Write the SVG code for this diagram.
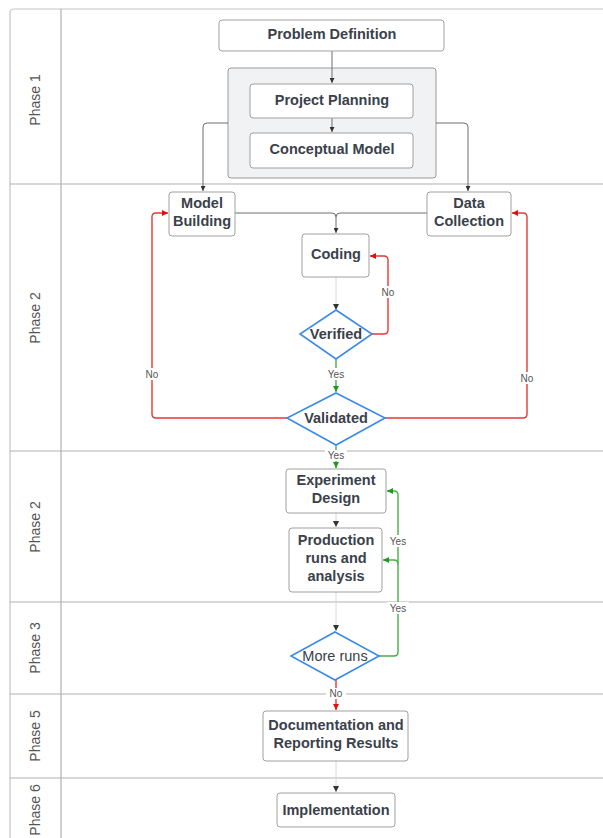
<svg xmlns="http://www.w3.org/2000/svg" width="603" height="838" viewBox="0 0 603 838">
<defs>
<style>
.lane{fill:none;stroke:#c4c4c4;stroke-width:1.2}
.div{stroke:#b0b0b0;stroke-width:1.2}
.lbl{font-family:"Liberation Sans",Arial,sans-serif;font-size:14px;fill:#555;text-anchor:middle}
.box{fill:#fff;stroke:#a0a0a0;stroke-width:1}
.dia{fill:#fff;stroke:#3b8be6;stroke-width:1.6}
.t{font-family:"Liberation Sans",Arial,sans-serif;font-size:14.5px;font-weight:bold;fill:#3a414a;text-anchor:middle}
.tn{font-family:"Liberation Sans",Arial,sans-serif;font-size:14.5px;fill:#3a414a;text-anchor:middle}
.g{fill:none;stroke:#6e6e6e;stroke-width:1}
.gf{fill:none;stroke:#d8d8d8;stroke-width:1}
.r{fill:none;stroke:#e53935;stroke-width:1.4}
.gr{fill:none;stroke:#45b045;stroke-width:1.4}
.sm{font-family:"Liberation Sans",Arial,sans-serif;font-size:10px;fill:#555;text-anchor:middle}
</style>
<marker id="ag" viewBox="0 0 10 10" refX="10" refY="5" markerWidth="5" markerHeight="5" orient="auto" markerUnits="userSpaceOnUse"><path d="M0,0 L10,5 L0,10 z" fill="#333"/></marker>
<marker id="ar" viewBox="0 0 10 10" refX="10" refY="5" markerWidth="6" markerHeight="6" orient="auto" markerUnits="userSpaceOnUse"><path d="M0,0 L10,5 L0,10 z" fill="#e01010"/></marker>
<marker id="agr" viewBox="0 0 10 10" refX="10" refY="5" markerWidth="6" markerHeight="6" orient="auto" markerUnits="userSpaceOnUse"><path d="M0,0 L10,5 L0,10 z" fill="#1e9a1e"/></marker>
</defs>
<rect width="603" height="838" fill="#fff"/>
<g id="lanes">
<path class="lane" d="M603,9 H14 Q10,9 10,13 V838"/>
<line class="div" x1="61" y1="9" x2="61" y2="838"/>
<line class="div" x1="10" y1="184" x2="603" y2="184"/>
<line class="div" x1="10" y1="451" x2="603" y2="451"/>
<line class="div" x1="10" y1="602" x2="603" y2="602"/>
<line class="div" x1="10" y1="694" x2="603" y2="694"/>
<line class="div" x1="10" y1="778" x2="603" y2="778"/>
<text class="lbl" transform="translate(40,100) rotate(-90)">Phase 1</text>
<text class="lbl" transform="translate(40,318) rotate(-90)">Phase 2</text>
<text class="lbl" transform="translate(40,527) rotate(-90)">Phase 2</text>
<text class="lbl" transform="translate(40,648) rotate(-90)">Phase 3</text>
<text class="lbl" transform="translate(40,736) rotate(-90)">Phase 5</text>
<text class="lbl" transform="translate(40,810) rotate(-90)">Phase 6</text>
</g>
<g id="container">
<rect x="228" y="68" width="208" height="110" rx="3" fill="#f1f2f4" stroke="#9a9a9a" stroke-width="1"/>
</g>
<g id="connectors">
<path class="g" d="M332,51 V83" marker-end="url(#ag)"/>
<path class="g" d="M332,118 V132" marker-end="url(#ag)"/>
<path class="g" d="M228,123 H207 Q203,123 203,127 V191" marker-end="url(#ag)"/>
<path class="g" d="M436,123 H464 Q468,123 468,127 V191" marker-end="url(#ag)"/>
<path class="g" d="M235,213 H332 Q336,213 336,217 V233" marker-end="url(#ag)"/>
<path class="g" d="M427,213 H340 Q336,213 336,217"/>
<path class="gf" d="M336,277 V309"/>
<path d="M333,304 L339,304 L336,310 z" fill="#333"/>
<path class="r" d="M372,334 H384 Q388,334 388,330 V260 Q388,256 384,256 H370" marker-end="url(#ar)"/>
<path class="gr" d="M336,359 V392" marker-end="url(#agr)"/>
<path class="r" d="M287,418 H156 Q152,418 152,414 V217 Q152,213 156,213 H168" marker-end="url(#ar)"/>
<path class="r" d="M385,418 H523 Q527,418 527,414 V217 Q527,213 523,213 H512" marker-end="url(#ar)"/>
<path class="gr" d="M336,445 V468" marker-end="url(#agr)"/>
<path class="gf" d="M336,513 V527"/>
<path d="M333,521 L339,521 L336,527 z" fill="#333"/>
<path class="gf" d="M336,592 V631"/>
<path d="M333,625 L339,625 L336,631 z" fill="#333"/>
<path class="gr" d="M379,656 H394 Q398,656 398,652 V495 Q398,491 394,491 H387" marker-end="url(#agr)"/>
<path class="gr" d="M398,564 Q398,560 394,560 H383" marker-end="url(#agr)"/>
<path class="r" d="M336,680 V710" marker-end="url(#ar)"/>
<path class="gf" d="M336,761 V792"/>
<path d="M333,786 L339,786 L336,792 z" fill="#333"/>
<g>
<rect x="378" y="286" width="20" height="12" fill="#fff"/><text class="sm" x="388" y="296">No</text>
<rect x="325" y="368" width="22" height="12" fill="#fff"/><text class="sm" x="336" y="378">Yes</text>
<rect x="142" y="368" width="20" height="12" fill="#fff"/><text class="sm" x="152" y="378">No</text>
<rect x="517" y="372" width="20" height="12" fill="#fff"/><text class="sm" x="527" y="382">No</text>
<rect x="325" y="450" width="22" height="11" fill="#fff"/><text class="sm" x="336" y="459">Yes</text>
<rect x="387" y="535" width="22" height="12" fill="#fff"/><text class="sm" x="398" y="545">Yes</text>
<rect x="387" y="602" width="22" height="12" fill="#fff"/><text class="sm" x="398" y="612">Yes</text>
<rect x="326" y="688" width="20" height="11" fill="#fff"/><text class="sm" x="336" y="697">No</text>
</g>
</g>
<g id="problem-definition"><rect class="box" x="219" y="20" width="225" height="31" rx="3"/><text class="t" x="332" y="39">Problem Definition</text></g>
<g id="project-planning"><rect class="box" x="250" y="84" width="163" height="34" rx="3"/><text class="t" x="332" y="105">Project Planning</text></g>
<g id="conceptual-model"><rect class="box" x="250" y="133" width="163" height="35" rx="3"/><text class="t" x="332" y="154">Conceptual Model</text></g>
<g id="model-building"><rect class="box" x="169" y="192" width="66" height="44" rx="3"/><text class="t" x="202" y="208">Model</text><text class="t" x="202" y="226">Building</text></g>
<g id="data-collection"><rect class="box" x="427" y="192" width="84" height="44" rx="3"/><text class="t" x="469" y="208">Data</text><text class="t" x="469" y="226">Collection</text></g>
<g id="coding"><rect class="box" x="302" y="234" width="67" height="43" rx="3"/><text class="t" x="336" y="259">Coding</text></g>
<g id="verified"><polygon class="dia" points="336,310 372,334 336,359 300,334"/><text class="t" x="336" y="339">Verified</text></g>
<g id="validated"><polygon class="dia" points="336,393 385,418 336,445 287,418"/><text class="t" x="336" y="423">Validated</text></g>
<g id="experiment-design"><rect class="box" x="286" y="469" width="100" height="44" rx="3"/><text class="t" x="336" y="485">Experiment</text><text class="t" x="336" y="503">Design</text></g>
<g id="production"><rect class="box" x="289" y="528" width="93" height="64" rx="3"/><text class="t" x="336" y="545">Production</text><text class="t" x="336" y="563">runs and</text><text class="t" x="336" y="581">analysis</text></g>
<g id="more-runs"><polygon class="dia" points="335,632 379,656 335,680 291,656"/><text class="tn" x="335" y="661">More runs</text></g>
<g id="documentation"><rect class="box" x="263" y="711" width="145" height="50" rx="3"/><text class="t" x="336" y="730">Documentation and</text><text class="t" x="336" y="748">Reporting Results</text></g>
<g id="implementation"><rect class="box" x="277" y="793" width="118" height="34" rx="3"/><text class="t" x="336" y="815">Implementation</text></g>
</svg>
